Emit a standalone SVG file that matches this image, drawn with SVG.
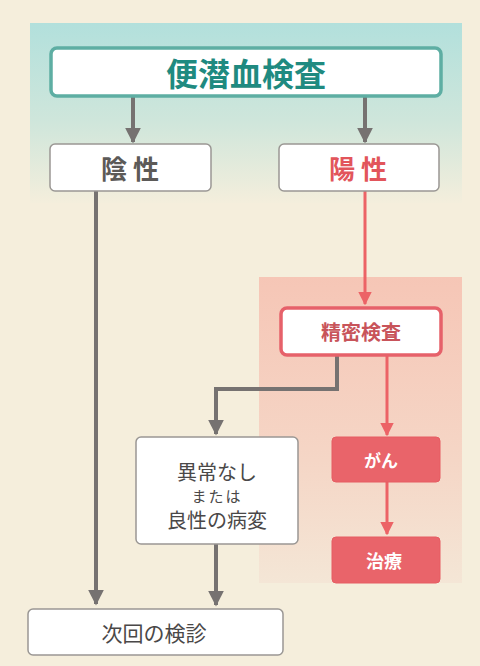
<svg xmlns="http://www.w3.org/2000/svg" width="480" height="666" viewBox="0 0 480 666">
<defs>
<linearGradient id="teal" x1="0" y1="0" x2="0" y2="1">
<stop offset="0" stop-color="#b2e0dc"/>
<stop offset="0.55" stop-color="#cfe6db"/>
<stop offset="1" stop-color="#f4eedc"/>
</linearGradient>
<linearGradient id="pink" x1="0" y1="0" x2="0" y2="1">
<stop offset="0" stop-color="#f6c6b6"/>
<stop offset="0.6" stop-color="#f5d6c6"/>
<stop offset="1" stop-color="#f4e6d6"/>
</linearGradient>
<marker id="ag" viewBox="0 0 10 10" refX="9" refY="5" markerWidth="4" markerHeight="4.6" orient="auto" markerUnits="strokeWidth">
<path d="M0,0 L10,5 L0,10 z" fill="#767271"/>
</marker>
<marker id="ar" viewBox="0 0 10 10" refX="9" refY="5" markerWidth="4.6" markerHeight="5" orient="auto" markerUnits="strokeWidth">
<path d="M0,0 L10,5 L0,10 z" fill="#ec6366"/>
</marker>
</defs>
<style>
.wbox{fill:#ffffff;stroke:#9a9794;stroke-width:1.5}
.rbox{fill:#e9646a;stroke:#e65c62;stroke-width:1}
.t{font-family:"Noto Sans CJK JP","Noto Sans",sans-serif;text-anchor:middle;dominant-baseline:central}
.g{stroke:#767271;stroke-width:4;fill:none}
.r{stroke:#ec6366;stroke-width:3;fill:none}
</style>
<rect x="0" y="0" width="480" height="666" fill="#f5eedc"/>
<rect x="30" y="23" width="432" height="180" fill="url(#teal)"/>
<rect x="259" y="277" width="203" height="306" fill="url(#pink)"/>

<g id="connectors">
<line class="g" x1="133" y1="97" x2="133" y2="142" marker-end="url(#ag)"/>
<line class="g" x1="365" y1="97" x2="365" y2="142" marker-end="url(#ag)"/>
<line class="g" x1="96" y1="191" x2="96" y2="604" marker-end="url(#ag)"/>
<line class="r" x1="365" y1="191" x2="365" y2="304" marker-end="url(#ar)"/>
<polyline class="g" points="337,356 337,389 216,389 216,434" marker-end="url(#ag)"/>
<line class="r" x1="387" y1="356" x2="387" y2="435" marker-end="url(#ar)"/>
<line class="r" x1="387" y1="482" x2="387" y2="534" marker-end="url(#ar)"/>
<line class="g" x1="216" y1="544" x2="216" y2="605" marker-end="url(#ag)"/>
</g>

<g id="n-fobt">
<rect x="51" y="48" width="390" height="48" rx="6" fill="#ffffff" stroke="#5eaea3" stroke-width="3.5"/>
<text class="t" x="246" y="72" font-size="32" font-weight="bold" fill="#1f8a80">便潜血検査</text>
</g>
<g id="n-neg">
<rect class="wbox" x="50" y="144" width="161" height="47" rx="5"/>
<text class="t" x="130" y="167" font-size="26" font-weight="bold" fill="#5c5a58">陰 性</text>
</g>
<g id="n-pos">
<rect class="wbox" x="279" y="144" width="160" height="47" rx="5"/>
<text class="t" x="358" y="167" font-size="26" font-weight="bold" fill="#e2555b">陽 性</text>
</g>
<g id="n-detail">
<rect x="281" y="308" width="160" height="47" rx="6" fill="#ffffff" stroke="#e6616a" stroke-width="3.5"/>
<text class="t" x="361" y="331" font-size="20" font-weight="bold" fill="#c8545a">精密検査</text>
</g>
<g id="n-normal">
<rect class="wbox" x="136" y="437" width="162" height="107" rx="5"/>
<text class="t" x="217" y="471" font-size="20" fill="#4a4848">異常なし</text>
<text class="t" x="217" y="495" font-size="15" fill="#4a4848" letter-spacing="2">または</text>
<text class="t" x="217" y="519" font-size="20" fill="#4a4848">良性の病変</text>
</g>
<g id="n-cancer">
<rect class="rbox" x="332" y="437" width="108" height="45" rx="4"/>
<text class="t" x="381" y="459" font-size="17" font-weight="bold" fill="#ffffff">がん</text>
</g>
<g id="n-treat">
<rect class="rbox" x="332" y="537" width="108" height="46" rx="4"/>
<text class="t" x="384" y="560" font-size="18" font-weight="bold" fill="#ffffff">治療</text>
</g>
<g id="n-next">
<rect class="wbox" x="28" y="609" width="255" height="46" rx="5"/>
<text class="t" x="154" y="632" font-size="21" fill="#4a4848">次回の検診</text>
</g>
</svg>
